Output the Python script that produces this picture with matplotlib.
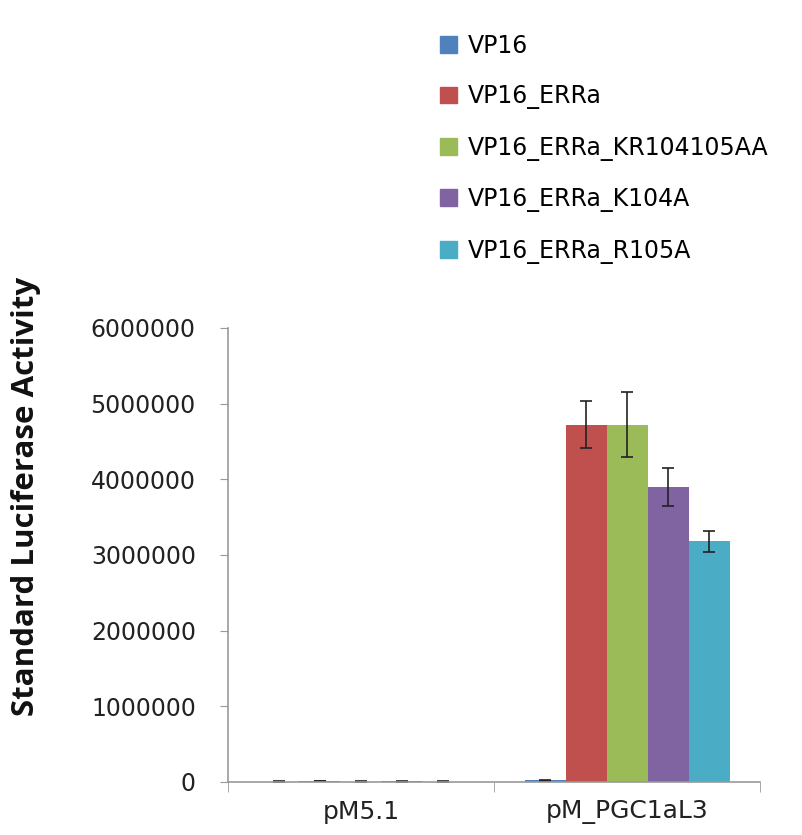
import numpy as np
import matplotlib.pyplot as plt
from matplotlib.patches import Patch

# --- data ---
categories = ['pM5.1', 'pM_PGC1aL3']
series = ['VP16', 'VP16_ERRa', 'VP16_ERRa_KR104105AA', 'VP16_ERRa_K104A', 'VP16_ERRa_R105A']
colors = ['#4F81BD', '#C0504D', '#9BBB59', '#8064A2', '#4BACC6']

values = {
    'VP16':                 [6000, 20000],
    'VP16_ERRa':            [12000, 4720000],
    'VP16_ERRa_KR104105AA': [6000, 4720000],
    'VP16_ERRa_K104A':      [7000, 3900000],
    'VP16_ERRa_R105A':      [5000, 3180000],
}
errors = {
    'VP16':                 [3000, 8000],
    'VP16_ERRa':            [4000, 310000],
    'VP16_ERRa_KR104105AA': [3000, 430000],
    'VP16_ERRa_K104A':      [3000, 250000],
    'VP16_ERRa_R105A':      [2000, 135000],
}
yticks = [0, 1000000, 2000000, 3000000, 4000000, 5000000, 6000000]

fig = plt.figure(figsize=(8.02, 8.35), dpi=100)
ax = fig.add_axes([0.284, 0.0635, 0.664, 0.5437])

n = len(series)
bw = 1.0 / (n + 1.5)
x = np.arange(len(categories))
for i, s in enumerate(series):
    pos = x + (i - (n - 1) / 2) * bw
    ax.bar(pos, values[s], bw, color=colors[i], yerr=errors[s],
           error_kw=dict(ecolor='#222222', elinewidth=1.2, capsize=4.5, capthick=1.2))

ax.set_xlim(-0.5, 1.5)
ax.set_ylim(0, 6000000)
ax.set_yticks(yticks)
ax.set_yticklabels([str(v) for v in yticks], fontsize=17, color='#222222')
ax.set_xticks(x)
ax.set_xticklabels(categories, fontsize=18, color='#222222')
ax.tick_params(axis='x', length=0, pad=13)
ax.tick_params(axis='y', length=6, color='#999999', direction='out', pad=17)
# category boundary ticks on the x axis
ax.set_xticks([-0.5, 0.5, 1.5], minor=True)
ax.tick_params(axis='x', which='minor', length=7, color='#999999', direction='out')

for side in ['top', 'right']:
    ax.spines[side].set_visible(False)
for side in ['left', 'bottom']:
    ax.spines[side].set_color('#999999')
    ax.spines[side].set_linewidth(1.2)

ax.set_ylabel('Standard Luciferase Activity', fontsize=22.5, fontweight='bold',
              family='Open Sans', color='#111111')
ax.yaxis.set_label_coords(-0.35, 0.628)

handles = [Patch(color=c) for c in colors]
fig.legend(handles, series, loc='upper left', bbox_to_anchor=(0.522, 0.985),
           frameon=False, fontsize=17, handlelength=0.72, handleheight=0.72,
           handletextpad=0.45, labelspacing=1.12)

plt.savefig('out.png', dpi=100)
